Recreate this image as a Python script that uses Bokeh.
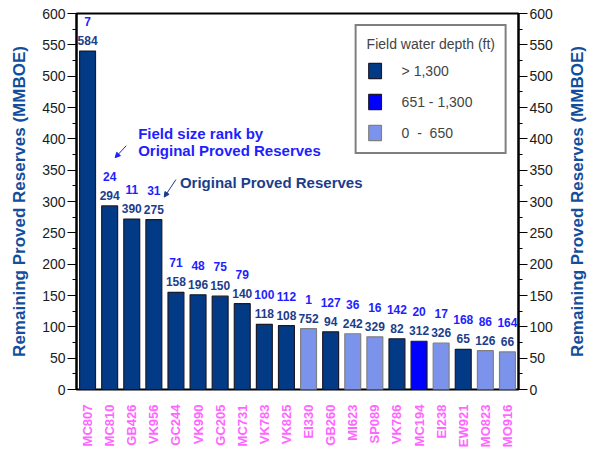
from bokeh.plotting import figure
from bokeh.layouts import row
from bokeh.models import (ColumnDataSource, FactorRange, Range1d, LinearAxis, SingleIntervalTicker, FixedTicker,
                          Legend, LegendItem, Label, Arrow, NormalHead)
from bokeh.core.properties import value
from bokeh.embed import file_html
from bokeh.resources import INLINE
import math

fields = ["MC807", "MC810", "GB426", "VK956", "GC244", "VK990", "GC205", "MC731", "VK783", "VK825",
          "EI330", "GB260", "MI623", "SP089", "VK786", "MC194", "EI238", "EW921", "MO823", "MO916"]
remaining = [540, 293, 272, 271, 155, 151, 149, 137, 104, 102, 97, 92, 89, 84, 81, 77, 74, 64, 62, 60]
original = [584, 294, 390, 275, 158, 196, 150, 140, 118, 108, 752, 94, 242, 329, 82, 312, 326, 65, 126, 66]
rank = [7, 24, 11, 31, 71, 48, 75, 79, 100, 112, 1, 127, 36, 16, 142, 20, 17, 168, 86, 164]
depth = ["deep", "deep", "deep", "deep", "deep", "deep", "deep", "deep", "deep", "deep",
         "shallow", "deep", "shallow", "shallow", "deep", "mid", "shallow", "deep", "shallow", "shallow"]
depth_classes = ["deep", "mid", "shallow"]
depth_labels = ["> 1,300", "651 - 1,300", "0\u00a0 -\u00a0 650"]
y_title = "Remaining Proved Reserves (MMBOE)"

FONT = "Liberation Sans"
DARK = "#023A85"
colors = {"deep": DARK, "mid": "#0000FF", "shallow": "#7B93EA"}
outlines = {"deep": "#1a1a2a", "mid": "#1a1a2a", "shallow": "#808080"}
TITLE_COLOR = "#124E9C"

W, H = 562, 450
TOP, BOTTOM = 13, 389
p = figure(width=W, height=H, x_range=FactorRange(*fields), y_range=Range1d(0, 600),
           output_backend="svg", toolbar_location=None, y_axis_location=None,
           min_border_left=76, min_border_right=W - 518, min_border_top=TOP, min_border_bottom=H - BOTTOM)
p.xgrid.grid_line_color = None
p.ygrid.grid_line_color = None
p.outline_line_color = "black"
p.outline_line_width = 2
p.background_fill_color = "white"
p.border_fill_color = "white"

renderers = {}
for cls in depth_classes:
    idx = [i for i, d in enumerate(depth) if d == cls]
    src = ColumnDataSource(dict(x=[fields[i] for i in idx], top=[remaining[i] for i in idx]))
    renderers[cls] = p.vbar(x="x", top="top", width=0.72, source=src, fill_color=colors[cls],
                            line_color=outlines[cls], line_width=1.2)

lab = ColumnDataSource(dict(x=fields, y=remaining, orig=[str(v) for v in original],
                            rank=[str(v) for v in rank]))
p.text(x="x", y="y", text="orig", source=lab, text_align="center", text_baseline="bottom",
       y_offset=-6, text_font=value(FONT), text_font_style="bold", text_font_size="12px",
       text_color="#1C3D8A")
p.text(x="x", y="y", text="rank", source=lab, text_align="center", text_baseline="bottom",
       y_offset=-25, text_font=value(FONT), text_font_style="bold", text_font_size="12px",
       text_color="#1E1EFF")

def style_axis(ax, title):
    ax.ticker = SingleIntervalTicker(interval=50, num_minor_ticks=2)
    ax.axis_label = title
    ax.axis_label_text_font = FONT
    ax.axis_label_text_font_style = "bold"
    ax.axis_label_text_font_size = "17px"
    ax.axis_label_text_color = TITLE_COLOR
    ax.axis_label_standoff = 10
    ax.major_label_text_font = FONT
    ax.major_label_text_font_size = "14px"
    ax.major_label_text_color = "#1a1a1a"
    ax.major_label_standoff = 2
    ax.major_tick_in = 0
    ax.major_tick_out = 9
    ax.minor_tick_in = 0
    ax.minor_tick_out = 4
    ax.axis_line_width = 2
    ax.major_tick_line_width = 1
    ax.minor_tick_line_width = 1

left = LinearAxis()
style_axis(left, y_title)
p.add_layout(left, "left")
right = LinearAxis()
style_axis(right, None)
p.add_layout(right, "right")

xa = p.xaxis[0]
xa.axis_line_color = None
xa.major_tick_line_color = None
xa.minor_tick_line_color = None
xa.major_label_orientation = math.pi / 2
xa.major_label_text_font = FONT
xa.major_label_text_font_style = "bold"
xa.major_label_text_font_size = "13px"
xa.major_label_text_color = "#FF66FF"
xa.major_label_standoff = 9

legend = Legend(items=[LegendItem(label=lbl, renderers=[renderers[c]])
                       for c, lbl in zip(depth_classes, depth_labels)],
                location="top_right", title="Field water depth (ft)")
legend.margin = 11
legend.border_line_color = "black"
legend.border_line_width = 2
legend.background_fill_color = "white"
legend.background_fill_alpha = 1
legend.title_text_font = FONT
legend.title_text_font_size = "14px"
legend.title_text_font_style = "normal"
legend.title_standoff = 9
legend.label_text_font = FONT
legend.label_text_font_size = "14px"
legend.padding = 10
legend.spacing = 12
legend.glyph_width = 16
legend.glyph_height = 19
legend.label_height = 19
legend.label_standoff = 19
p.add_layout(legend)

NOTE_BLUE = "#1E1EFF"
p.add_layout(Label(x=2.79, y=408, text="Field size rank by", text_font=FONT, text_font_style="bold",
                   text_font_size="15px", text_color=NOTE_BLUE, text_baseline="middle"))
p.add_layout(Label(x=2.79, y=381, text="Original Proved Reserves", text_font=FONT, text_font_style="bold",
                   text_font_size="15px", text_color=NOTE_BLUE, text_baseline="middle"))
p.add_layout(Label(x=4.68, y=330, text="Original Proved Reserves", text_font=FONT, text_font_style="bold",
                   text_font_size="15px", text_color="#1C3D8A", text_baseline="middle"))
p.add_layout(Arrow(x_start=2.25, y_start=389, x_end=1.75, y_end=370, line_color=NOTE_BLUE, line_width=1,
                   end=NormalHead(size=5, fill_color=NOTE_BLUE, line_color=NOTE_BLUE)))
p.add_layout(Arrow(x_start=4.5, y_start=335, x_end=3.97, y_end=307, line_color="#1C3D8A", line_width=1,
                   end=NormalHead(size=5, fill_color="#1C3D8A", line_color="#1C3D8A")))

# narrow companion figure carrying the right-hand axis title (reads bottom-to-top)
W2 = 26
p2 = figure(width=W2, height=H, x_range=Range1d(0, 1), y_range=p.y_range,
            output_backend="svg", toolbar_location=None, y_axis_location=None, x_axis_location=None,
            min_border_left=W2 - 2, min_border_right=0, min_border_top=TOP, min_border_bottom=H - BOTTOM)
p2.xgrid.grid_line_color = None
p2.ygrid.grid_line_color = None
p2.outline_line_color = None
p2.background_fill_color = "white"
p2.border_fill_color = "white"
rt = LinearAxis(ticker=FixedTicker(ticks=[]), axis_label=y_title)
rt.axis_line_color = None
rt.major_tick_line_color = None
rt.minor_tick_line_color = None
rt.major_label_text_font_size = "0px"
rt.major_label_standoff = 0
rt.major_tick_out = 0
rt.axis_label_standoff = 0
rt.axis_label_text_font = FONT
rt.axis_label_text_font_style = "bold"
rt.axis_label_text_font_size = "17px"
rt.axis_label_text_color = TITLE_COLOR
p2.add_layout(rt, "left")

layout = row(p, p2)
open("out.html", "w").write(file_html(layout, INLINE))
